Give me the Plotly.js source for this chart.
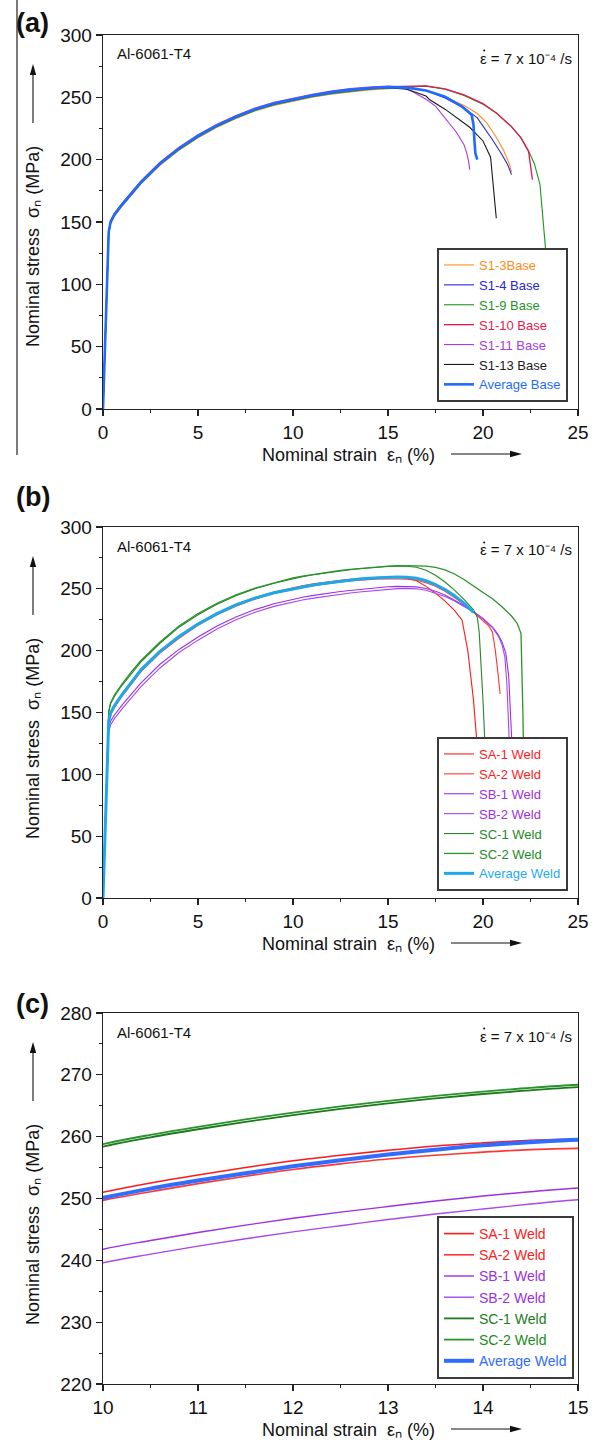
<!DOCTYPE html>
<html><head><meta charset="utf-8">
<script src="https://cdn.plot.ly/plotly-3.0.1.min.js"></script>
<style>html,body{margin:0;padding:0;background:#fff}#chart{width:597px;height:1447px}</style>
</head><body><div id="chart"></div>
<script>
// ---------------- DATA ----------------
// Panel (a): base metal specimens (nominal strain %, nominal stress MPa)
const baseHardStrain = [0, 0.1, 0.2, 0.3, 0.4, 0.6, 1, 1.5, 2, 3, 4, 5, 6, 7, 8, 9, 10, 11, 12, 13, 14, 15];

const s13Stress = [0, 47, 98, 140, 148.5, 154.5, 162.5, 171.5, 180.5, 195.5, 207.5, 217.5, 226, 233, 239, 243.5, 247, 250, 252.5, 254.5, 256, 257];
const s13TailStrain = [16, 17, 18, 19, 19.7, 20.2, 20.7, 21.1, 21.4, 21.5];
const s13TailStress = [257.5, 255.5, 250.5, 243.5, 237, 229.5, 218, 207, 196, 190];

const s14Stress = [0, 48, 100, 142, 150, 156, 164, 173, 182, 197, 209, 219, 227.5, 234.5, 240.5, 245, 248.5, 251.5, 254, 256, 257.3, 258.2];
const s14TailStrain = [16, 17, 18, 19, 19.7, 20.5, 21, 21.3, 21.5];
const s14TailStress = [258, 255.5, 249.5, 241.5, 233.5, 216, 204, 196, 188];

const s19Stress = [0, 47, 99, 141, 149, 155, 163, 172, 181, 196, 208, 218, 226.5, 233.5, 239.5, 244, 247.5, 250.5, 253, 255, 256.5, 257.5];
const s19TailStrain = [16, 17, 18, 19, 20, 20.7, 21.5, 22, 22.4, 22.7, 23.0, 23.1, 23.2, 23.3];
const s19TailStress = [258.5, 259, 256.5, 251.5, 244.5, 237.5, 226.5, 217.5, 207, 197, 180, 160, 140, 127];

const s110Stress = [0, 48, 100, 142, 150.3, 156.3, 164.3, 173.3, 182.3, 197.3, 209.3, 219.3, 227.8, 234.8, 240.8, 245.3, 248.8, 251.8, 254.3, 256.3, 257.7, 258.6];
const s110TailStrain = [16, 17, 18, 19, 20, 20.7, 21.5, 22, 22.4, 22.5, 22.6];
const s110TailStress = [259, 259.2, 256.8, 252, 245, 237.5, 226.5, 217.5, 206.5, 196, 184];

const s111Stress = [0, 49, 101, 143, 151, 157, 165, 174, 183, 198, 210, 220, 228.5, 235.5, 241.5, 246, 249.5, 252.5, 255, 257, 258.3, 259];
const s111TailStrain = [15.5, 16, 16.3, 17, 17.5, 18.1, 18.6, 19.0, 19.15, 19.25, 19.3];
const s111TailStress = [258.5, 256.5, 254.5, 248.5, 243, 232, 222, 212, 205, 198, 192];

const s113Stress = [0, 48, 100, 142, 149.7, 155.7, 163.7, 172.7, 181.7, 196.7, 208.7, 218.7, 227.2, 234.2, 240.2, 244.7, 248.2, 251.2, 253.7, 255.7, 257, 257.8];
const s113TailStrain = [16, 17, 17.2, 18, 19.3, 20, 20.4, 20.5, 20.6, 20.7];
const s113TailStress = [256.5, 251, 248, 240.5, 226, 215, 202, 185, 168, 153];

const avgBaseStress = [0, 48, 100, 142, 150, 156, 164, 173, 182, 197, 209, 219, 227.5, 234.5, 240.5, 245, 248.5, 251.5, 254, 256, 257.3, 258.2];
const avgBaseTailStrain = [16, 17, 18, 18.9, 19.4, 19.5, 19.55, 19.6, 19.7];
const avgBaseTailStress = [257.8, 255.5, 250.5, 242.5, 236, 228, 215, 205, 200];

const baseNames = ['S1-3Base', 'S1-4 Base', 'S1-9 Base', 'S1-10 Base', 'S1-11 Base', 'S1-13 Base', 'Average Base'];

// Panels (b) and (c): welded specimens
const weldHardStrain = [0, 0.1, 0.2, 0.3, 0.4, 0.6, 1, 1.5, 2, 3, 4, 5, 6, 7, 8, 9, 10, 10.5, 11, 11.5, 12, 12.5, 13, 13.5, 14, 14.5, 15, 15.5];

const sa1Stress = [0, 48, 100, 143, 150, 156, 165, 175, 185, 200, 212, 222, 230.5, 237.5, 243, 247.5, 251, 252.5, 253.8, 255, 256.1, 257, 257.8, 258.5, 259, 259.4, 259.6, 259.6];
const sa1TailStrain = [16, 16.5, 17, 17.5, 18, 18.5, 18.9, 19.2, 19.5, 19.7, 19.75];
const sa1TailStress = [258.6, 256.5, 252, 246.5, 240, 232.5, 224.6, 200, 160, 122, 100];

const sa2Stress = [0, 47, 98, 141, 148, 154, 163, 173, 183, 198, 210, 220.5, 229, 236, 241.7, 246.2, 249.7, 251.1, 252.4, 253.6, 254.7, 255.6, 256.4, 257, 257.5, 257.9, 258.1, 258.1];
const sa2TailStrain = [16, 16.5, 17, 17.5, 18, 18.5, 19, 19.5, 20, 20.3, 20.5, 20.65, 20.8, 20.9];
const sa2TailStress = [257.8, 257, 255, 252, 248, 243, 237.5, 231, 224, 220, 215, 200, 180, 165];

const sb1Stress = [0, 46, 96, 137, 143, 148, 156, 165, 174, 189, 201, 211, 220, 227.3, 233.2, 238, 241.8, 243.2, 244.5, 245.7, 246.8, 247.8, 248.7, 249.6, 250.4, 251.1, 251.7, 252.0];
const sb1TailStrain = [16, 16.5, 17, 17.5, 18, 18.5, 19, 19.5, 20, 20.5, 20.8, 21.0, 21.2, 21.35, 21.45, 21.55, 21.6];
const sb1TailStress = [252.1, 251.6, 250.3, 248, 245, 241, 236.5, 231.5, 226, 219, 213, 207, 198, 180, 150, 120, 100];

const sb2Stress = [0, 45, 94, 134, 140, 145, 153, 162, 171, 186, 198.5, 208.5, 217.5, 225, 231, 235.8, 239.6, 241, 242.3, 243.5, 244.6, 245.6, 246.6, 247.5, 248.3, 249.1, 249.8, 250.2];
const sb2TailStrain = [16, 16.5, 17, 17.5, 18, 18.5, 19, 19.5, 20, 20.5, 20.8, 21.0, 21.15, 21.25, 21.32, 21.4, 21.45];
const sb2TailStress = [250.4, 250, 248.8, 246.6, 243.8, 240.2, 236, 231.2, 225.6, 218.6, 212, 205, 195, 175, 150, 120, 100];

const sc1Stress = [0, 50, 105, 150, 157, 163, 172, 182, 191, 206, 219, 229, 237.5, 244.5, 250, 254.5, 258.4, 259.9, 261.2, 262.4, 263.5, 264.5, 265.4, 266.2, 266.9, 267.5, 268, 268.3];
const sc1TailStrain = [16, 16.5, 17, 17.5, 18, 18.5, 19, 19.5, 19.7, 19.8, 19.9, 20.0, 20.1, 20.2];
const sc1TailStress = [268.3, 267.5, 265, 261, 255.5, 249, 241.5, 233, 227, 215, 190, 160, 125, 100];

const sc2Stress = [0, 51, 106, 151, 158, 164, 173, 183, 192, 207, 220, 230, 238.3, 245.2, 250.6, 255, 258.8, 260.3, 261.6, 262.8, 263.9, 264.9, 265.8, 266.6, 267.3, 267.9, 268.4, 268.7];
const sc2TailStrain = [16, 16.5, 17, 17.5, 18, 18.5, 19, 19.5, 20, 20.5, 21, 21.5, 21.8, 22.0, 22.05, 22.1, 22.15];
const sc2TailStress = [268.8, 268.6, 268.3, 267.3, 265.3, 262, 257.5, 252, 247, 242, 235.5, 228, 222, 214, 190, 150, 100];

const avgWeldStress = [0, 48, 100, 143, 149.5, 155.5, 164.5, 174.5, 184.5, 199.5, 211.5, 221.5, 230, 237, 242.5, 246.8, 250.1, 251.6, 252.9, 254.1, 255.2, 256.2, 257.1, 257.9, 258.6, 259.1, 259.5, 259.6];
const avgWeldTailStrain = [16, 16.5, 17, 17.5, 18, 18.5, 19, 19.5];
const avgWeldTailStress = [259.3, 258.5, 256.5, 253.5, 249.5, 244.5, 238.5, 231];

const weldNames = ['SA-1 Weld', 'SA-2 Weld', 'SB-1 Weld', 'SB-2 Weld', 'SC-1 Weld', 'SC-2 Weld', 'Average Weld'];

// Axis ticks
const fullStrainTicks = [0, 5, 10, 15, 20, 25];
const zoomStrainTicks = [10, 11, 12, 13, 14, 15];
const fullStressTicks = [0, 50, 100, 150, 200, 250, 300];
const zoomStressTicks = [220, 230, 240, 250, 260, 270, 280];

// ---------------- STYLE / BUILD ----------------
const FONT = 'Liberation Sans, Arial, Helvetica, sans-serif';
const L = 103, R = 578, T = 35, B = 1384;
const xp = px => (px - L) / (R - L);
const yp = py => (B - py) / (B - T);

const baseSeries = [
  [baseHardStrain.concat(s13TailStrain), s13Stress.concat(s13TailStress), '#FF8C1A', 1.1],
  [baseHardStrain.concat(s14TailStrain), s14Stress.concat(s14TailStress), '#2626E0', 1.1],
  [baseHardStrain.concat(s19TailStrain), s19Stress.concat(s19TailStress), '#1E961E', 1.1],
  [baseHardStrain.concat(s110TailStrain), s110Stress.concat(s110TailStress), '#E8174F', 1.3],
  [baseHardStrain.concat(s111TailStrain), s111Stress.concat(s111TailStress), '#A63BE8', 1.1],
  [baseHardStrain.concat(s113TailStrain), s113Stress.concat(s113TailStress), '#1A1A1A', 1.1],
  [baseHardStrain.concat(avgBaseTailStrain), avgBaseStress.concat(avgBaseTailStress), '#1E6BFF', 2.6]
];
const weldSeries = [
  [weldHardStrain.concat(sa1TailStrain), sa1Stress.concat(sa1TailStress), '#FF1A1A', 1.1, '#FF2020'],
  [weldHardStrain.concat(sa2TailStrain), sa2Stress.concat(sa2TailStress), '#FF3535', 1.1, '#FF2020'],
  [weldHardStrain.concat(sb1TailStrain), sb1Stress.concat(sb1TailStress), '#9B30E6', 1.1, '#9B30E0'],
  [weldHardStrain.concat(sb2TailStrain), sb2Stress.concat(sb2TailStress), '#A848EA', 1.1, '#9B30E0'],
  [weldHardStrain.concat(sc1TailStrain), sc1Stress.concat(sc1TailStress), '#2A862A', 1.1, '#1E8A1E'],
  [weldHardStrain.concat(sc2TailStrain), sc2Stress.concat(sc2TailStress), '#2A932A', 1.3, '#1E8A1E'],
  [weldHardStrain.concat(avgWeldTailStrain), avgWeldStress.concat(avgWeldTailStress), '#1EA8EC', 3.0, '#1EAAF0']
];

const traces = [];
baseSeries.forEach((s, i) => {
  traces.push({x: s[0], y: s[1], type: 'scatter', mode: 'lines', xaxis: 'x', yaxis: 'y',
    line: {color: s[2], width: s[3]}, legend: 'legend',
    name: '<span style="color:' + s[2] + '">' + baseNames[i] + '</span>'});
});
weldSeries.forEach((s, i) => {
  traces.push({x: s[0], y: s[1], type: 'scatter', mode: 'lines', xaxis: 'x2', yaxis: 'y2',
    line: {color: s[2], width: s[3]}, legend: 'legend2',
    name: '<span style="color:' + s[4] + '">' + weldNames[i] + '</span>'});
});
const zoomColors = ['#FF1A1A', '#FF3535', '#9B30E6', '#A848EA', '#1B7A1B', '#2A932A', '#2F6DFF'];
const zoomText = ['#FF2020', '#FF2020', '#9B30E0', '#9B30E0', '#1E7A1E', '#1E8A1E', '#2F6BFF'];
const zoomWidth = [1.6, 1.6, 1.4, 1.4, 1.8, 1.8, 4];
weldSeries.forEach((s, i) => {
  traces.push({x: s[0], y: s[1], type: 'scatter', mode: 'lines', xaxis: 'x3', yaxis: 'y3',
    line: {color: zoomColors[i], width: zoomWidth[i], shape: 'spline', smoothing: 1}, legend: 'legend3',
    name: '<span style="color:' + zoomText[i] + '">' + weldNames[i] + '</span>'});
});

function xAxis(range, ticks, minor, anchor) {
  return {range: range, tickvals: ticks, ticks: 'outside', ticklen: 6, tickwidth: 1.2, tickcolor: '#222',
    minor: {dtick: minor, tick0: range[0], ticks: 'outside', ticklen: 3, tickwidth: 1, tickcolor: '#222'},
    showline: true, mirror: true, linecolor: '#222', linewidth: 1.3, showgrid: false, zeroline: false,
    anchor: anchor, tickfont: {size: 19, family: FONT, color: '#111'}};
}
function yAxis(range, ticks, minor, anchor, top, bottom) {
  return {range: range, tickvals: ticks, ticks: 'outside', ticklen: 6, tickwidth: 1.2, tickcolor: '#222',
    minor: {dtick: minor, tick0: range[0], ticks: 'outside', ticklen: 3, tickwidth: 1, tickcolor: '#222'},
    showline: true, mirror: true, linecolor: '#222', linewidth: 1.3, showgrid: false, zeroline: false,
    anchor: anchor, domain: [yp(bottom), yp(top)], tickfont: {size: 19, family: FONT, color: '#111'}};
}

const panels = [
  {top: 35, bottom: 409, label: '(a)', labelY: 23},
  {top: 527, bottom: 898, label: '(b)', labelY: 497},
  {top: 1013, bottom: 1384, label: '(c)', labelY: 1004}
];
const annotations = [];
const shapes = [];
const lineStyle = {color: '#111', width: 1.1};
panels.forEach(p => {
  const f = (size) => ({family: FONT, size: size, color: '#111'});
  annotations.push({xref: 'paper', yref: 'paper', x: xp(14), y: yp(p.labelY), xanchor: 'left', yanchor: 'middle',
    text: '<b>' + p.label + '</b>', showarrow: false, font: f(27)});
  annotations.push({xref: 'paper', yref: 'paper', x: xp(115), y: yp(p.top + 19), xanchor: 'left', yanchor: 'middle',
    text: 'Al-6061-T4', showarrow: false, font: f(15)});
  annotations.push({xref: 'paper', yref: 'paper', x: xp(574), y: yp(p.top + 23), xanchor: 'right', yanchor: 'middle',
    text: 'ε = 7 x 10⁻⁴ /s', showarrow: false, font: f(15)});
  // dot of the strain-rate symbol
  shapes.push({type: 'circle', xref: 'paper', yref: 'paper', x0: xp(483.2), x1: xp(485.2), y0: yp(p.top + 16.5), y1: yp(p.top + 14.5),
    fillcolor: '#111', line: {width: 0}});
  annotations.push({xref: 'paper', yref: 'paper', x: xp(33), y: yp(p.top + 212), xanchor: 'center', yanchor: 'middle',
    textangle: -90, text: 'Nominal stress  σₙ (MPa)', showarrow: false, font: f(18)});
  // vertical arrow next to the y title
  shapes.push({type: 'line', xref: 'paper', yref: 'paper', x0: xp(33), x1: xp(33), y0: yp(p.top + 88), y1: yp(p.top + 38), line: lineStyle});
  shapes.push({type: 'path', xref: 'paper', yref: 'paper',
    path: 'M ' + xp(33) + ',' + yp(p.top + 29) + ' L ' + xp(29.8) + ',' + yp(p.top + 40) + ' L ' + xp(36.2) + ',' + yp(p.top + 40) + ' Z',
    fillcolor: '#111', line: {width: 0}});
  annotations.push({xref: 'paper', yref: 'paper', x: xp(348), y: yp(p.bottom + 46), xanchor: 'center', yanchor: 'middle',
    text: 'Nominal strain  εₙ (%)', showarrow: false, font: f(18)});
  // horizontal arrow next to the x title
  shapes.push({type: 'line', xref: 'paper', yref: 'paper', x0: xp(451), x1: xp(512), y0: yp(p.bottom + 45), y1: yp(p.bottom + 45), line: lineStyle});
  shapes.push({type: 'path', xref: 'paper', yref: 'paper',
    path: 'M ' + xp(522) + ',' + yp(p.bottom + 45) + ' L ' + xp(510) + ',' + yp(p.bottom + 41.8) + ' L ' + xp(510) + ',' + yp(p.bottom + 48.2) + ' Z',
    fillcolor: '#111', line: {width: 0}});
});
shapes.push({type: 'line', xref: 'paper', yref: 'paper', x0: xp(17), x1: xp(17), y0: yp(0), y1: yp(455),
  line: {color: '#222', width: 1.2}});

const legendStyle = (px, py, size) => ({x: xp(px), y: yp(py), xanchor: 'left', yanchor: 'bottom',
  bgcolor: '#fff', bordercolor: '#3a3a3a', borderwidth: 2, font: {family: FONT, size: size},
  itemwidth: 30, traceorder: 'normal'});

const layout = {
  width: 597, height: 1447,
  margin: {l: L, r: 597 - R, t: T, b: 1447 - B},
  paper_bgcolor: '#fff', plot_bgcolor: '#fff',
  font: {family: FONT, size: 18, color: '#111'},
  showlegend: true,
  xaxis: xAxis([0, 25], fullStrainTicks, 2.5, 'y'),
  yaxis: yAxis([0, 300], fullStressTicks, 25, 'x', panels[0].top, panels[0].bottom),
  xaxis2: xAxis([0, 25], fullStrainTicks, 2.5, 'y2'),
  yaxis2: yAxis([0, 300], fullStressTicks, 25, 'x2', panels[1].top, panels[1].bottom),
  xaxis3: xAxis([10, 15], zoomStrainTicks, 0.5, 'y3'),
  yaxis3: yAxis([220, 280], zoomStressTicks, 5, 'x3', panels[2].top, panels[2].bottom),
  legend: legendStyle(437, 402, 13),
  legend2: legendStyle(437, 891, 13),
  legend3: legendStyle(437, 1379, 14),
  annotations: annotations,
  shapes: shapes
};

Plotly.newPlot('chart', traces, layout, {displayModeBar: false, staticPlot: true});
</script></body></html>
